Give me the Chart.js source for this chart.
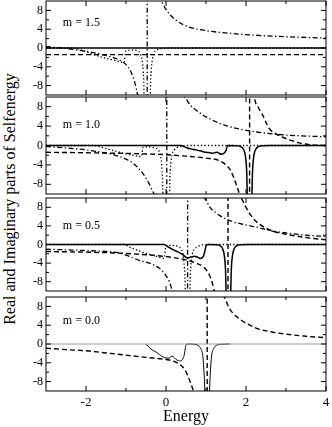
<!DOCTYPE html>
<html><head><meta charset="utf-8">
<script src="https://cdn.jsdelivr.net/npm/chart.js@4.4.0/dist/chart.umd.min.js"></script>
<style>
html,body{margin:0;padding:0;background:#fff;}
body{width:332px;height:427px;overflow:hidden;position:relative;}
canvas{position:absolute;left:0;}
#ytitle{position:absolute;left:-140px;top:190px;width:300px;height:18px;line-height:18px;text-align:center;
 font-family:"Liberation Serif","DejaVu Serif",serif;font-size:16px;color:#000;transform:rotate(-90deg);transform-origin:150px 9px;white-space:nowrap;}
</style></head><body>
<div id="ytitle">Real and Imaginary parts of Selfenergy</div>
<script>
// ---------- data ----------
const xMajorTicks = [-2, 0, 2, 4];
const xMinorTicks = [-1, 1, 3];
const yMajorTicks = [-8, -4, 0, 4, 8];
const yMinorTicks = [-6, -2, 2, 6];
const panelLabels = ['m = 1.5', 'm = 1.0', 'm = 0.5', 'm = 0.0'];
const xAxisTitle = 'Energy';

// m = 1.5
const m15Solid = [[-3,0],[4,0]];
const m15Dashed = [[-3,-1.4],[4,-1.4]];
const m15DashDot = [[-3,0.3],[-2.6,0],[-2.2,-0.45],[-1.9,-0.85],[-1.6,-1.4],[-1.3,-2.1],[-1.08,-3.0],[-0.95,-4.0],[-0.875,-5.1],[-0.8,-6.8],[-0.75,-8.3],[-0.71,-10],[-0.6,-17],[-0.5,-60],[-0.475,-400],[-0.465,400],[-0.3,30],[-0.12,10],[0.08,7.3],[0.3,5.6],[0.58,4.45],[1.0,3.7],[1.42,3.26],[2.0,2.85],[2.5,2.6],[3.0,2.4],[3.5,2.25],[4,2.1]];
const m15Dotted = [[-3,0],[-2.3,0],[-2.1,-0.5],[-1.9,-1.1],[-1.7,-1.7],[-1.5,-2.2],[-1.3,-2.6],[-1.15,-2.9],[-1.05,-3.1],[-1.0,-0.6],[-0.85,-0.45],[-0.72,-0.55],[-0.65,-1.1],[-0.6,-2.5],[-0.57,-5],[-0.55,-10],[-0.51,-60],[-0.47,-300],[-0.43,-60],[-0.39,-10],[-0.37,-5],[-0.34,-2.5],[-0.3,-1.1],[-0.24,-0.45],[-0.1,-0.1],[0.1,0],[4,0]];

// m = 1.0
const m10Solid = [[-3,0],[0.37,0],[0.5,-0.4],[0.62,-0.7],[0.75,-0.9],[0.9,-1.2],[1.0,-1.4],[1.1,-1.5],[1.17,-1.6],[1.24,-1.45],[1.29,-1.4],[1.34,-1.7],[1.4,-1.8],[1.46,-1.5],[1.5,-1.0],[1.54,0],[1.75,-0.05],[1.88,-0.3],[1.95,-1.0],[1.99,-2.5],[2.02,-6],[2.03,-10],[2.06,-40],[2.09,-300],[2.12,-40],[2.15,-10],[2.16,-6],[2.19,-2.5],[2.23,-1.0],[2.3,-0.3],[2.43,-0.05],[2.6,0],[4,0]];
const m10Dashed = [[-3,-1.4],[-2,-1.5],[-1.17,-1.6],[-0.5,-1.75],[0,-1.9],[0.5,-2.2],[1.0,-2.6],[1.33,-3.1],[1.5,-4.0],[1.62,-5.2],[1.75,-7.9],[1.85,-10.5],[1.95,-17],[2.04,-60],[2.08,-400],[2.1,400],[2.14,40],[2.21,10],[2.3,8.0],[2.42,6.2],[2.58,3.5],[2.75,2.4],[2.92,1.7],[3.25,0.7],[3.6,0.15],[4,0]];
const m10DashDot = [[-3,-0.2],[-2.5,-0.5],[-2,-0.9],[-1.67,-1.3],[-1.4,-1.7],[-1.17,-2.25],[-1.0,-2.8],[-0.83,-3.6],[-0.7,-4.6],[-0.58,-5.75],[-0.42,-7.9],[-0.29,-10],[-0.15,-20],[0.01,-400],[0.03,400],[0.2,22],[0.46,10],[0.6,8.4],[0.75,7.3],[1.0,5.9],[1.25,4.9],[1.5,4.1],[1.83,3.4],[2.42,2.6],[3.0,2.15],[3.5,1.95],[4,1.8]];
const m10Dotted = [[-3,0],[-1.8,0],[-1.6,-0.4],[-1.4,-0.85],[-1.2,-1.3],[-1.0,-1.7],[-0.8,-2.05],[-0.62,-2.3],[-0.57,-0.4],[-0.45,-0.3],[-0.3,-0.45],[-0.2,-0.9],[-0.14,-2],[-0.1,-5],[-0.08,-10],[-0.04,-60],[0.01,-300],[0.05,-60],[0.09,-10],[0.11,-5],[0.15,-2],[0.21,-0.9],[0.3,-0.35],[0.5,0],[4,0]];

// m = 0.5
const m05Solid = [[-3,0],[-0.04,0],[0.05,-0.5],[0.17,-1.1],[0.3,-1.6],[0.42,-2.2],[0.54,-2.9],[0.62,-2.7],[0.71,-2.5],[0.78,-2.7],[0.86,-3.0],[0.93,-2.6],[0.97,-1.5],[1.0,-0.3],[1.05,0],[1.25,-0.05],[1.36,-0.3],[1.42,-1.0],[1.46,-2.5],[1.49,-6],[1.5,-10],[1.53,-40],[1.56,-300],[1.59,-40],[1.62,-10],[1.63,-6],[1.66,-2.5],[1.7,-1.0],[1.76,-0.3],[1.87,-0.05],[2.05,0],[4,0]];
const m05Dashed = [[-3,-1.5],[-2,-1.65],[-1.17,-1.85],[-0.5,-2.2],[0,-2.6],[0.5,-3.3],[0.75,-4.0],[0.96,-5.0],[1.08,-6.5],[1.15,-8],[1.21,-10],[1.35,-20],[1.54,-400],[1.56,400],[1.7,22],[1.87,10],[2.0,8.0],[2.08,6.8],[2.2,5.4],[2.33,4.4],[2.5,3.5],[2.7,2.8],[3.0,2.2],[3.5,1.5],[4,1.0]];
const m05DashDot = [[-3,-1.0],[-2,-1.3],[-1.5,-1.5],[-1.17,-1.8],[-0.9,-2.6],[-0.67,-3.4],[-0.33,-4.3],[-0.08,-5.8],[0.08,-7.9],[0.17,-10],[0.35,-20],[0.53,-400],[0.55,400],[0.75,22],[0.96,10],[1.1,8.0],[1.25,6.8],[1.45,5.7],[1.67,4.9],[2.0,4.2],[2.33,3.6],[2.6,3.0],[3.0,2.5],[3.5,2.0],[4,1.75]];
const m05Dotted = [[-3,0],[-1.05,0],[-0.9,-0.6],[-0.7,-1.3],[-0.5,-1.9],[-0.3,-2.4],[-0.15,-2.8],[-0.05,-3.0],[0.0,-0.3],[0.15,-0.2],[0.3,-0.4],[0.38,-1.0],[0.42,-2],[0.46,-5],[0.48,-10],[0.51,-60],[0.54,-300],[0.57,-60],[0.6,-10],[0.62,-5],[0.66,-2],[0.72,-1.0],[0.8,-0.4],[0.9,-0.1],[1.05,0],[4,0]];

// m = 0.0
const m00Zero = [[-3,0],[4,0]];
const m00Solid = [[-0.5,0],[-0.375,-1.1],[-0.25,-1.7],[-0.17,-2.2],[-0.04,-2.9],[0.08,-3.0],[0.13,-2.6],[0.18,-2.7],[0.25,-3.3],[0.37,-3.6],[0.43,-3.0],[0.46,-2.2],[0.48,-1.0],[0.5,-0.2],[0.55,0],[0.7,-0.05],[0.8,-0.3],[0.87,-1.0],[0.92,-2.5],[0.95,-6],[0.97,-10],[1.0,-40],[1.03,-300],[1.06,-40],[1.09,-10],[1.11,-6],[1.14,-2.5],[1.19,-1.0],[1.26,-0.3],[1.4,-0.05],[1.6,0]];
const m00Dashed = [[-3,-0.9],[-2.5,-1.2],[-1.92,-1.5],[-1.5,-1.9],[-1.08,-2.3],[-0.5,-2.85],[0,-3.3],[0.2,-3.7],[0.42,-4.9],[0.5,-5.9],[0.58,-7.5],[0.67,-9.6],[0.72,-11],[0.85,-18],[1.02,-400],[1.04,400],[1.2,25],[1.45,10],[1.58,7.6],[1.83,5.4],[2.25,3.4],[2.5,2.8],[3.0,2.1],[3.5,1.65],[4,1.35]];

// ---------- styles / layout ----------
const SERIF = '"Liberation Serif","DejaVu Serif",serif';
const STYLE = {
  solid:   {color:'#000', width:1.5, dash:[]},
  thin:    {color:'#000', width:1.0, dash:[]},
  zero:    {color:'#9a9a9a', width:1.0, dash:[]},
  dashed:  {color:'#000', width:1.4, dash:[5,3]},
  dashdot: {color:'#000', width:1.3, dash:[5,2.5,1.3,2.5]},
  dotted:  {color:'#000', width:1.3, dash:[1.3,2.2]}
};
const PANELS = [
  {top:1,   bottom:95,  labelY:5.3, series:[['solid',m15Solid],['dashed',m15Dashed],['dashdot',m15DashDot],['dotted',m15Dotted]]},
  {top:97,  bottom:194, labelY:4.3, series:[['solid',m10Solid],['dashed',m10Dashed],['dashdot',m10DashDot],['dotted',m10Dotted]]},
  {top:198, bottom:291, labelY:4.1, series:[['solid',m05Solid],['dashed',m05Dashed],['dashdot',m05DashDot],['dotted',m05Dotted]]},
  {top:297, bottom:391, labelY:5.0, series:[['zero',m00Zero],['thin',m00Solid],['dashed',m00Dashed]]}
];
const PLOT_LEFT = 46, PLOT_RIGHT = 326, W = 332, PAGE_H = 427;
const LABEL_X = -2.58;

const framePlugin = {
  id: 'frame',
  afterDatasetsDraw(chart, args, opts) {
    const {ctx, chartArea: a, scales: {x, y}} = chart;
    ctx.save();
    ctx.strokeStyle = '#000';
    ctx.lineWidth = 1;
    ctx.setLineDash([]);
    ctx.strokeRect(a.left, a.top, a.right - a.left, a.bottom - a.top);
    ctx.beginPath();
    const tx = (vals, len) => vals.forEach(v => {
      const p = x.getPixelForValue(v);
      ctx.moveTo(p, a.top); ctx.lineTo(p, a.top + len);
      ctx.moveTo(p, a.bottom); ctx.lineTo(p, a.bottom - len);
    });
    const ty = (vals, len) => vals.forEach(v => {
      const p = y.getPixelForValue(v);
      ctx.moveTo(a.left, p); ctx.lineTo(a.left + len, p);
      ctx.moveTo(a.right, p); ctx.lineTo(a.right - len, p);
    });
    tx(xMajorTicks, 5); tx(xMinorTicks, 3);
    ty(yMajorTicks, 5); ty(yMinorTicks, 3);
    ctx.stroke();
    ctx.fillStyle = '#000';
    ctx.font = '12px ' + SERIF;
    ctx.textAlign = 'left';
    ctx.textBaseline = 'middle';
    ctx.fillText(opts.label, x.getPixelForValue(LABEL_X), y.getPixelForValue(opts.labelY));
    ctx.restore();
  }
};

PANELS.forEach((p, i) => {
  const isBottom = i === PANELS.length - 1;
  const padTop = Math.min(6, p.top);
  const cTop = p.top - padTop;
  const xH = isBottom ? (PAGE_H - p.bottom) : 0;
  const padBottom = isBottom ? 0 : 6;
  const cH = isBottom ? (PAGE_H - cTop) : (p.bottom - cTop + padBottom);
  const cv = document.createElement('canvas');
  cv.width = W; cv.height = cH;
  cv.style.top = cTop + 'px';
  cv.style.width = W + 'px'; cv.style.height = cH + 'px';
  document.body.appendChild(cv);

  const datasets = p.series.map(([st, pts]) => ({
    data: pts.map(([x, y]) => ({x, y})),
    borderColor: STYLE[st].color,
    borderWidth: STYLE[st].width,
    borderDash: STYLE[st].dash,
    pointRadius: 0,
    fill: false,
    cubicInterpolationMode: 'monotone',
    clip: 0
  }));

  const noPad = s => { s.paddingTop = 0; s.paddingBottom = 0; s.paddingLeft = 0; s.paddingRight = 0; };

  new Chart(cv, {
    type: 'line',
    data: {datasets},
    options: {
      responsive: false,
      animation: false,
      devicePixelRatio: 1,
      events: [],
      layout: {padding: {top: padTop, bottom: padBottom, left: 0, right: W - PLOT_RIGHT}},
      plugins: {legend: {display: false}, tooltip: {enabled: false},
                frame: {label: panelLabels[i], labelY: p.labelY}},
      scales: {
        x: {
          type: 'linear', min: -3, max: 4,
          display: isBottom,
          afterBuildTicks: s => { s.ticks = xMajorTicks.map(v => ({value: v})); },
          afterFit: s => { s.height = xH; noPad(s); },
          grid: {display: false, drawTicks: false},
          border: {display: false},
          ticks: {color: '#000', font: {family: SERIF, size: 13}, padding: 4, maxRotation: 0, autoSkip: false},
          title: {display: true, text: xAxisTitle, color: '#000', font: {family: SERIF, size: 16}, padding: {top: 0, bottom: 1}}
        },
        y: {
          type: 'linear', min: -10, max: 10,
          afterBuildTicks: s => { s.ticks = yMajorTicks.map(v => ({value: v})); },
          afterFit: s => { s.width = PLOT_LEFT; noPad(s); },
          grid: {display: false, drawTicks: false},
          border: {display: false},
          ticks: {color: '#000', font: {family: SERIF, size: 12}, padding: 3}
        }
      }
    },
    plugins: [framePlugin]
  });
});
</script>
</body></html>
